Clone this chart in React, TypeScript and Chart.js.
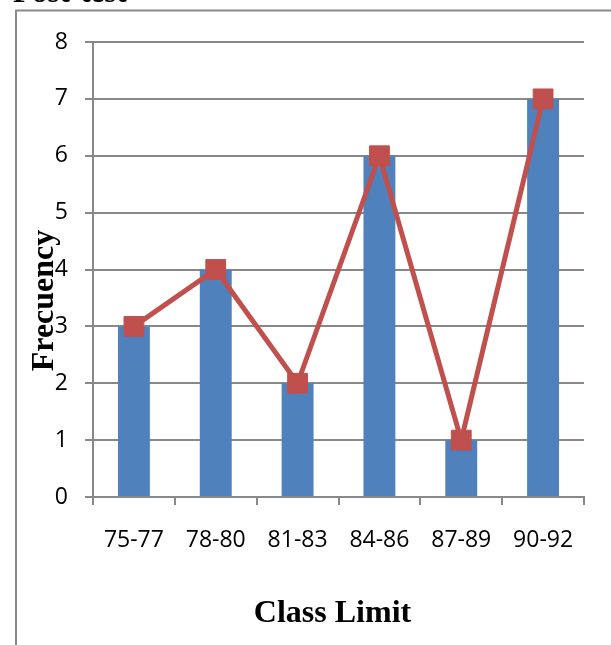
import React, { useEffect, useRef } from "react";
import { Chart, registerables } from "chart.js";

Chart.register(...registerables);

const categories = ["75-77", "78-80", "81-83", "84-86", "87-89", "90-92"];
const barValues = [3, 4, 2, 6, 1, 7];
const lineValues = [3, 4, 2, 6, 1, 7];
const yTicks = [0, 1, 2, 3, 4, 5, 6, 7, 8];
const xTitle = "Class Limit";
const yTitle = "Frecuency";
const headingText = "Post-test";

const BAR_COLOR = "#4F81BD";
const LINE_COLOR = "#C0504D";
const GRID_COLOR = "#888888";

const decorPlugin = {
  id: "decor",
  afterDraw(chart: any) {
    const { ctx, chartArea } = chart;
    ctx.save();
    // frame lines of the surrounding document box
    ctx.strokeStyle = "#8a8a8a";
    ctx.lineWidth = 2;
    ctx.beginPath();
    ctx.moveTo(16, 645);
    ctx.lineTo(16, 10.5);
    ctx.lineTo(611, 10.5);
    ctx.stroke();
    // cut-off heading
    ctx.fillStyle = "#000";
    ctx.font = "bold 31px 'Liberation Serif', 'Times New Roman', serif";
    ctx.textAlign = "left";
    ctx.textBaseline = "alphabetic";
    ctx.fillText(headingText, 13, 2);
    // axis titles
    ctx.font = "bold 32px 'Liberation Serif', 'Times New Roman', serif";
    ctx.textAlign = "center";
    ctx.textBaseline = "middle";
    ctx.fillText(xTitle, (chartArea.left + chartArea.right) / 2 - 6, chartArea.bottom + 117);
    ctx.translate(45, (chartArea.top + chartArea.bottom) / 2 + 31);
    ctx.rotate(-Math.PI / 2);
    ctx.fillText(yTitle, 0, 0);
    ctx.restore();
  },
};

export default function App() {
  const ref = useRef<HTMLCanvasElement | null>(null);
  useEffect(() => {
    if (!ref.current) return;
    const chart = new Chart(ref.current, {
      type: "bar",
      data: {
        labels: categories,
        datasets: [
          {
            type: "line",
            label: "Line",
            data: lineValues,
            borderColor: LINE_COLOR,
            backgroundColor: LINE_COLOR,
            borderWidth: 5,
            pointStyle: "rect",
            pointRadius: 14,
            pointBackgroundColor: LINE_COLOR,
            pointBorderColor: LINE_COLOR,
            pointBorderWidth: 1,
            tension: 0,
            order: 0,
          } as any,
          {
            type: "bar",
            label: "Bars",
            data: barValues,
            backgroundColor: BAR_COLOR,
            borderWidth: 0,
            barPercentage: 0.39,
            categoryPercentage: 1,
            order: 1,
          },
        ],
      },
      plugins: [decorPlugin],
      options: {
        responsive: false,
        animation: false,
        layout: { padding: { left: 0, right: 27, top: 42, bottom: 0 } },
        plugins: {
          legend: { display: false },
          tooltip: { enabled: false },
          title: { display: false },
        },
        scales: {
          x: {
            offset: true,
            grid: {
              offset: true,
              drawOnChartArea: false,
              drawTicks: true,
              tickLength: 8,
              color: GRID_COLOR,
              lineWidth: 2,
            },
            border: { display: true, color: GRID_COLOR, width: 2 },
            ticks: {
              padding: 22,
              color: "#000",
              font: { family: "'Open Sans', sans-serif", size: 23 },
              maxRotation: 0,
            },
            afterFit(scale: any) {
              scale.height = 148;
            },
          },
          y: {
            min: yTicks[0],
            max: yTicks[yTicks.length - 1],
            grid: {
              color: GRID_COLOR,
              lineWidth: 2,
              drawTicks: true,
              tickLength: 8,
            },
            border: { display: true, color: GRID_COLOR, width: 2 },
            ticks: {
              stepSize: 1,
              padding: 17,
              color: "#000",
              font: { family: "'Open Sans', sans-serif", size: 23 },
            },
            afterFit(scale: any) {
              scale.width = 93;
            },
          },
        },
      },
    });
    return () => chart.destroy();
  }, []);
  return (
    <div style={{ position: "fixed", left: 0, top: 0, width: 611, height: 645, background: "#fff" }}>
      <canvas ref={ref} width={611} height={645} />
    </div>
  );
}
